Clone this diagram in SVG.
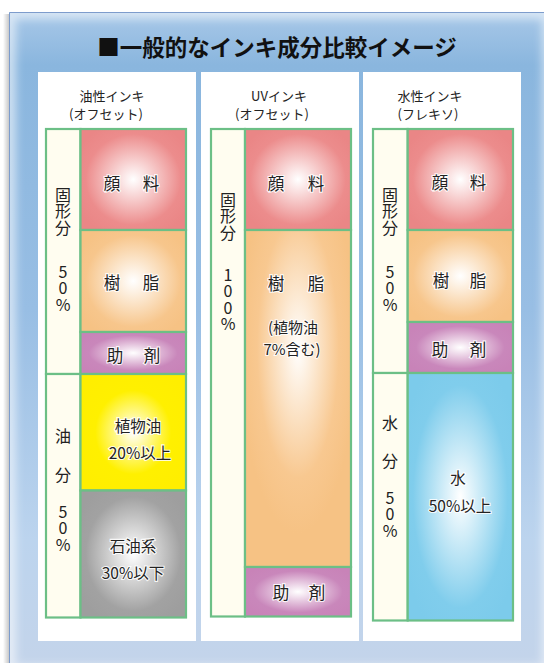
<svg xmlns="http://www.w3.org/2000/svg" width="544" height="663" viewBox="0 0 544 663">
<defs>
<style>
text{font-family:"Noto Sans CJK JP","Noto Sans",sans-serif;fill:#222;}
.title{font-size:22.5px;font-weight:bold;fill:#111;}
.hd{font-size:13px;text-anchor:middle;dominant-baseline:central;}
.v{font-size:16px;writing-mode:vertical-rl;text-orientation:upright;letter-spacing:0.4px;}
.seg{font-size:16.5px;text-anchor:middle;dominant-baseline:central;stroke:#fff;stroke-width:2.2px;stroke-opacity:0.85;paint-order:stroke;}
.seg2{font-size:15.5px;text-anchor:middle;dominant-baseline:central;stroke:#fff;stroke-width:2.2px;stroke-opacity:0.85;paint-order:stroke;}
.seg3{font-size:15px;text-anchor:middle;dominant-baseline:central;stroke:#fff;stroke-width:2px;stroke-opacity:0.85;paint-order:stroke;}
.box{stroke:#6cbf86;stroke-width:2.2;}
.lab{fill:#fffdf0;stroke:#6cbf86;stroke-width:2.2;}
</style>
<linearGradient id="bg" x1="0" y1="0" x2="0" y2="1">
<stop offset="0" stop-color="#a8c8e8"/>
<stop offset="0.08" stop-color="#8ab6de"/>
<stop offset="0.45" stop-color="#98bee4"/>
<stop offset="0.8" stop-color="#bcd4ee"/>
<stop offset="1" stop-color="#c4d4ea"/>
</linearGradient>
<linearGradient id="shadowL" x1="0" y1="0" x2="1" y2="0">
<stop offset="0" stop-color="#ffffff"/>
<stop offset="1" stop-color="#c8c8c8"/>
</linearGradient>
<filter id="blur" x="-0.1" y="-0.1" width="1.2" height="1.2"><feGaussianBlur stdDeviation="4"/></filter>
<clipPath id="frameClip"><rect x="9" y="12" width="540" height="660"/></clipPath>
<radialGradient id="gPig" cx="0.5" cy="0.5" r="0.6"><stop offset="0" stop-color="#ffffff"/><stop offset="0.75" stop-color="#ec8c8c"/><stop offset="1" stop-color="#ea8686"/></radialGradient>
<radialGradient id="gRes" cx="0.5" cy="0.5" r="0.6"><stop offset="0" stop-color="#ffffff"/><stop offset="0.75" stop-color="#f7c68c"/><stop offset="1" stop-color="#f6c284"/></radialGradient>
<radialGradient id="gRes2" cx="0.5" cy="0.35" r="0.55"><stop offset="0" stop-color="#ffffff"/><stop offset="0.7" stop-color="#f8c890"/><stop offset="1" stop-color="#f6c284"/></radialGradient>
<radialGradient id="gAdd" cx="0.5" cy="0.5" r="0.6"><stop offset="0" stop-color="#ffffff"/><stop offset="0.7" stop-color="#c987bb"/><stop offset="1" stop-color="#c883b8"/></radialGradient>
<radialGradient id="gVeg" cx="0.5" cy="0.5" r="0.6"><stop offset="0" stop-color="#ffffff"/><stop offset="0.6" stop-color="#fff000"/><stop offset="1" stop-color="#ffee00"/></radialGradient>
<radialGradient id="gPet" cx="0.5" cy="0.5" r="0.6"><stop offset="0" stop-color="#ffffff"/><stop offset="0.75" stop-color="#a2a2a2"/><stop offset="1" stop-color="#9e9e9e"/></radialGradient>
<radialGradient id="gWat" cx="0.5" cy="0.5" r="0.6"><stop offset="0" stop-color="#ffffff"/><stop offset="0.75" stop-color="#80cdec"/><stop offset="1" stop-color="#7ccbeb"/></radialGradient>
</defs>

<g id="background">
<rect x="0" y="0" width="544" height="663" fill="#ffffff"/>
<rect x="3" y="14" width="6" height="660" fill="url(#shadowL)"/>
<rect x="9" y="12" width="540" height="660" fill="url(#bg)"/>
<g clip-path="url(#frameClip)">
<rect x="9" y="12" width="540" height="660" fill="none" stroke="#ffffff" stroke-opacity="0.55" stroke-width="14" filter="url(#blur)"/>
</g>
<path d="M9.5 663 V12.5 H544" fill="none" stroke="#7d9ccc" stroke-width="1"/>
</g>

<text id="title" class="title" x="277" y="56" text-anchor="middle">■一般的なインキ成分比較イメージ</text>

<g id="col-oil">
<rect x="38" y="72" width="158" height="569" fill="#ffffff"/>
<text class="hd" x="112" y="95">油性インキ</text>
<text class="hd" x="106" y="113">(オフセット)</text>
<g id="oil-solid-label">
<rect class="lab" x="46" y="129" width="34.5" height="245"/>
<text class="v" x="63" y="187">固形分</text>
<text class="v" x="63" y="264">50%</text>
</g>
<g id="oil-oil-label">
<rect class="lab" x="46" y="374" width="34.5" height="243.5"/>
<text class="v" x="63" y="428">油</text>
<text class="v" x="63" y="467">分</text>
<text class="v" x="63" y="504">50%</text>
</g>
<g id="oil-pigment"><rect class="box" x="80.5" y="129" width="105.5" height="101" fill="url(#gPig)"/><text class="seg"><tspan x="112" y="183">顔</tspan><tspan x="151" y="183">料</tspan></text></g>
<g id="oil-resin"><rect class="box" x="80.5" y="230" width="105.5" height="102" fill="url(#gRes)"/><text class="seg"><tspan x="112" y="282">樹</tspan><tspan x="151" y="282">脂</tspan></text></g>
<g id="oil-additive"><rect class="box" x="80.5" y="332" width="105.5" height="42" fill="url(#gAdd)"/><text class="seg"><tspan x="115" y="355">助</tspan><tspan x="152" y="355">剤</tspan></text></g>
<g id="oil-vegoil"><rect class="box" x="80.5" y="374" width="105.5" height="116.5" fill="url(#gVeg)"/><text class="seg2"><tspan x="138" y="425">植物油</tspan><tspan x="140" y="452">20%以上</tspan></text></g>
<g id="oil-petro"><rect class="box" x="80.5" y="490.5" width="105.5" height="127" fill="url(#gPet)"/><text class="seg2"><tspan x="133" y="545">石油系</tspan><tspan x="133" y="572">30%以下</tspan></text></g>
</g>

<g id="col-uv">
<rect x="201" y="72" width="158" height="569" fill="#ffffff"/>
<text class="hd" x="279" y="95">UVインキ</text>
<text class="hd" x="272" y="113">(オフセット)</text>
<g id="uv-solid-label">
<rect class="lab" x="211" y="129" width="34" height="487.5"/>
<text class="v" x="228" y="192">固形分</text>
<text class="v" x="228" y="267">100%</text>
</g>
<g id="uv-pigment"><rect class="box" x="245" y="129" width="106" height="101" fill="url(#gPig)"/><text class="seg"><tspan x="276" y="183">顔</tspan><tspan x="316" y="183">料</tspan></text></g>
<g id="uv-resin"><rect class="box" x="245" y="230" width="106" height="337" fill="url(#gRes2)"/><text class="seg"><tspan x="276" y="283">樹</tspan><tspan x="316" y="283">脂</tspan></text><text class="seg3"><tspan x="293" y="326">(植物油</tspan><tspan x="292" y="348">7%含む)</tspan></text></g>
<g id="uv-additive"><rect class="box" x="245" y="567" width="106" height="49.5" fill="url(#gAdd)"/><text class="seg"><tspan x="281" y="592">助</tspan><tspan x="317" y="592">剤</tspan></text></g>
</g>

<g id="col-water">
<rect x="363" y="72" width="158" height="569" fill="#ffffff"/>
<text class="hd" x="430" y="95">水性インキ</text>
<text class="hd" x="428" y="113">(フレキソ)</text>
<g id="water-solid-label">
<rect class="lab" x="373" y="129" width="34.7" height="244"/>
<text class="v" x="390" y="187">固形分</text>
<text class="v" x="390" y="264">50%</text>
</g>
<g id="water-water-label">
<rect class="lab" x="373" y="373" width="34.7" height="247.5"/>
<text class="v" x="390" y="415">水</text>
<text class="v" x="390" y="453">分</text>
<text class="v" x="390" y="490">50%</text>
</g>
<g id="water-pigment"><rect class="box" x="407.7" y="129" width="105.3" height="101" fill="url(#gPig)"/><text class="seg"><tspan x="440" y="182">顔</tspan><tspan x="478" y="182">料</tspan></text></g>
<g id="water-resin"><rect class="box" x="407.7" y="230" width="105.3" height="92" fill="url(#gRes)"/><text class="seg"><tspan x="441" y="280">樹</tspan><tspan x="478" y="280">脂</tspan></text></g>
<g id="water-additive"><rect class="box" x="407.7" y="322" width="105.3" height="51" fill="url(#gAdd)"/><text class="seg"><tspan x="440" y="349">助</tspan><tspan x="478" y="349">剤</tspan></text></g>
<g id="water-water"><rect class="box" x="407.7" y="373" width="105.3" height="247.5" fill="url(#gWat)"/><text class="seg2"><tspan x="458" y="477">水</tspan><tspan x="460" y="505">50%以上</tspan></text></g>
</g>
</svg>
